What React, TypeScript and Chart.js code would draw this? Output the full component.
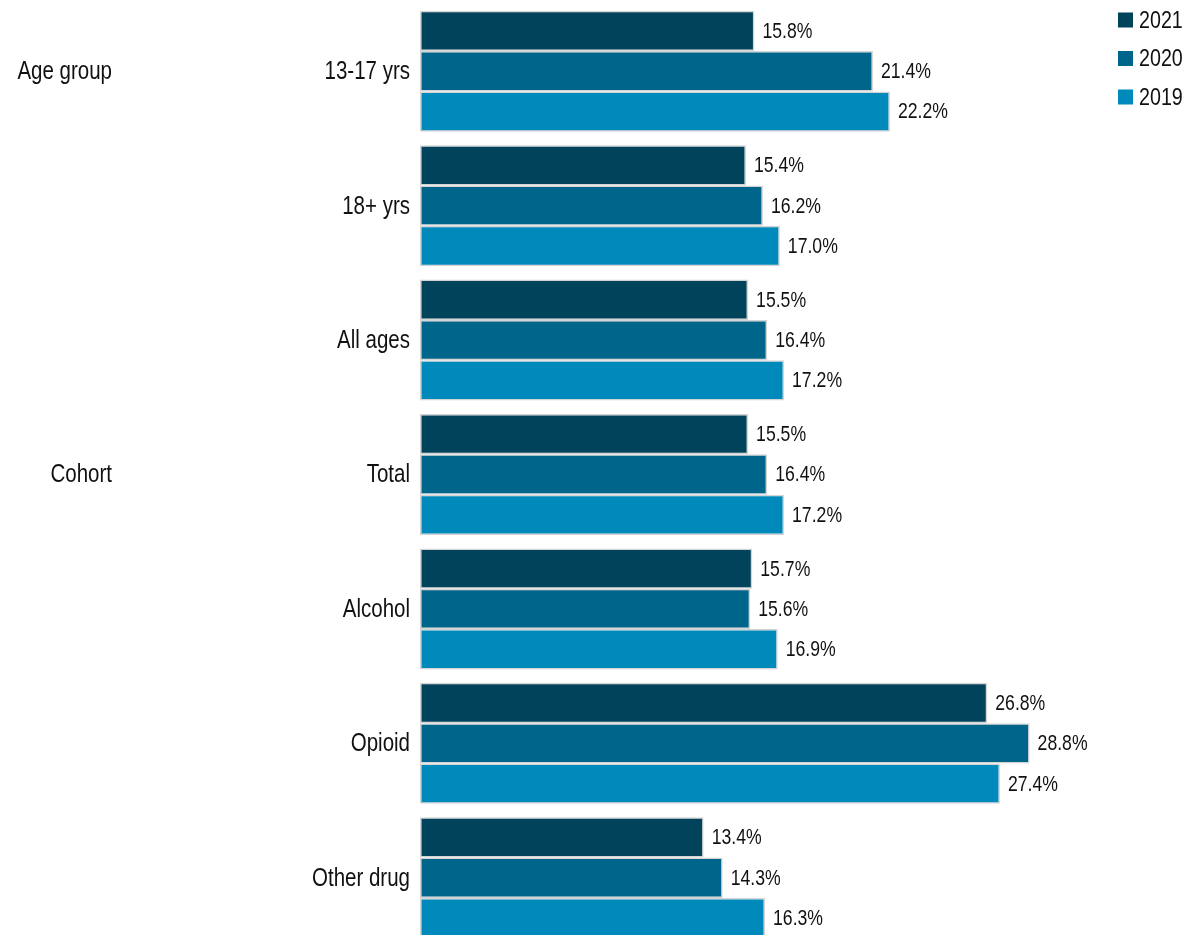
import React, { useEffect, useRef } from 'react';
import { Chart, registerables } from 'chart.js';

Chart.register(...registerables);

const categories = ['13-17 yrs', '18+ yrs', 'All ages', 'Total', 'Alcohol', 'Opioid', 'Other drug'];
const seriesNames = ['2021', '2020', '2019'];
const values2021 = [15.8, 15.4, 15.5, 15.5, 15.7, 26.8, 13.4];
const values2020 = [21.4, 16.2, 16.4, 16.4, 15.6, 28.8, 14.3];
const values2019 = [22.2, 17.0, 17.2, 17.2, 16.9, 27.4, 16.3];
const seriesColors = ['#00435A', '#00658B', '#0089BB'];
const groupLabels = [
  { text: 'Age group', index: 0 },
  { text: 'Cohort', index: 3 },
];

const FONT = "'Liberation Sans', Arial, sans-serif";
const NARROW = 0.82;

function drawNarrow(ctx: CanvasRenderingContext2D, text: string, x: number, y: number, align: CanvasTextAlign, size: number) {
  ctx.save();
  ctx.font = `${size}px ${FONT}`;
  ctx.fillStyle = '#111111';
  ctx.textAlign = align;
  ctx.textBaseline = 'middle';
  ctx.translate(x, y);
  ctx.scale(NARROW, 1);
  ctx.fillText(text, 0, 0);
  ctx.restore();
}

const textPlugin = {
  id: 'texts',
  afterDatasetsDraw(chart: any) {
    const ctx = chart.ctx;
    const yScale = chart.scales.y;
    // value labels
    chart.data.datasets.forEach((ds: any, di: number) => {
      const meta = chart.getDatasetMeta(di);
      meta.data.forEach((el: any, i: number) => {
        const v = ds.data[i];
        drawNarrow(ctx, v.toFixed(1) + '%', el.x + 8, el.y + 1, 'left', 21.5);
      });
    });
    // category labels
    chart.data.labels.forEach((lab: string, i: number) => {
      drawNarrow(ctx, lab, 410, yScale.getPixelForValue(i) + 1, 'right', 25);
    });
    // group labels
    groupLabels.forEach((g) => {
      drawNarrow(ctx, g.text, 112, yScale.getPixelForValue(g.index) + 1, 'right', 25);
    });
    // legend
    chart.data.datasets.forEach((ds: any, i: number) => {
      const cy = 20 + i * 38.5;
      ctx.save();
      ctx.fillStyle = ds.backgroundColor;
      ctx.fillRect(1118, cy - 7.5, 15, 15);
      ctx.restore();
      drawNarrow(ctx, ds.label, 1139, cy + 1, 'left', 24);
    });
  },
};

export default function App() {
  const ref = useRef<HTMLCanvasElement>(null);
  useEffect(() => {
    if (!ref.current) return;
    const seriesValues = [values2021, values2020, values2019];
    const chart = new Chart(ref.current, {
      type: 'bar',
      data: {
        labels: categories,
        datasets: seriesNames.map((name, i) => ({
          label: name,
          data: seriesValues[i],
          backgroundColor: seriesColors[i],
          borderColor: '#D4D4D4',
          borderWidth: 1.5,
          borderSkipped: false,
          categoryPercentage: 0.9,
          barPercentage: 1.0,
        })),
      },
      options: {
        indexAxis: 'y',
        responsive: false,
        animation: false,
        devicePixelRatio: 1,
        layout: { padding: { top: 4, right: 142, bottom: 0, left: 0 } },
        plugins: {
          legend: { display: false },
          tooltip: { enabled: false },
        },
        scales: {
          x: {
            display: false,
            min: 0,
            max: 30,
          },
          y: {
            afterFit(scale: any) {
              scale.width = 420;
              scale.paddingTop = 0;
              scale.paddingBottom = 0;
            },
            grid: { display: false, drawTicks: false },
            border: { display: false },
            ticks: { display: false },
          },
        },
      },
      plugins: [textPlugin],
    } as any);
    return () => chart.destroy();
  }, []);
  return (
    <div style={{ position: 'absolute', left: 0, top: 0, width: 1197, height: 935, overflow: 'hidden', background: '#fff' }}>
      <canvas ref={ref} width={1197} height={945} style={{ display: 'block' }} />
    </div>
  );
}
